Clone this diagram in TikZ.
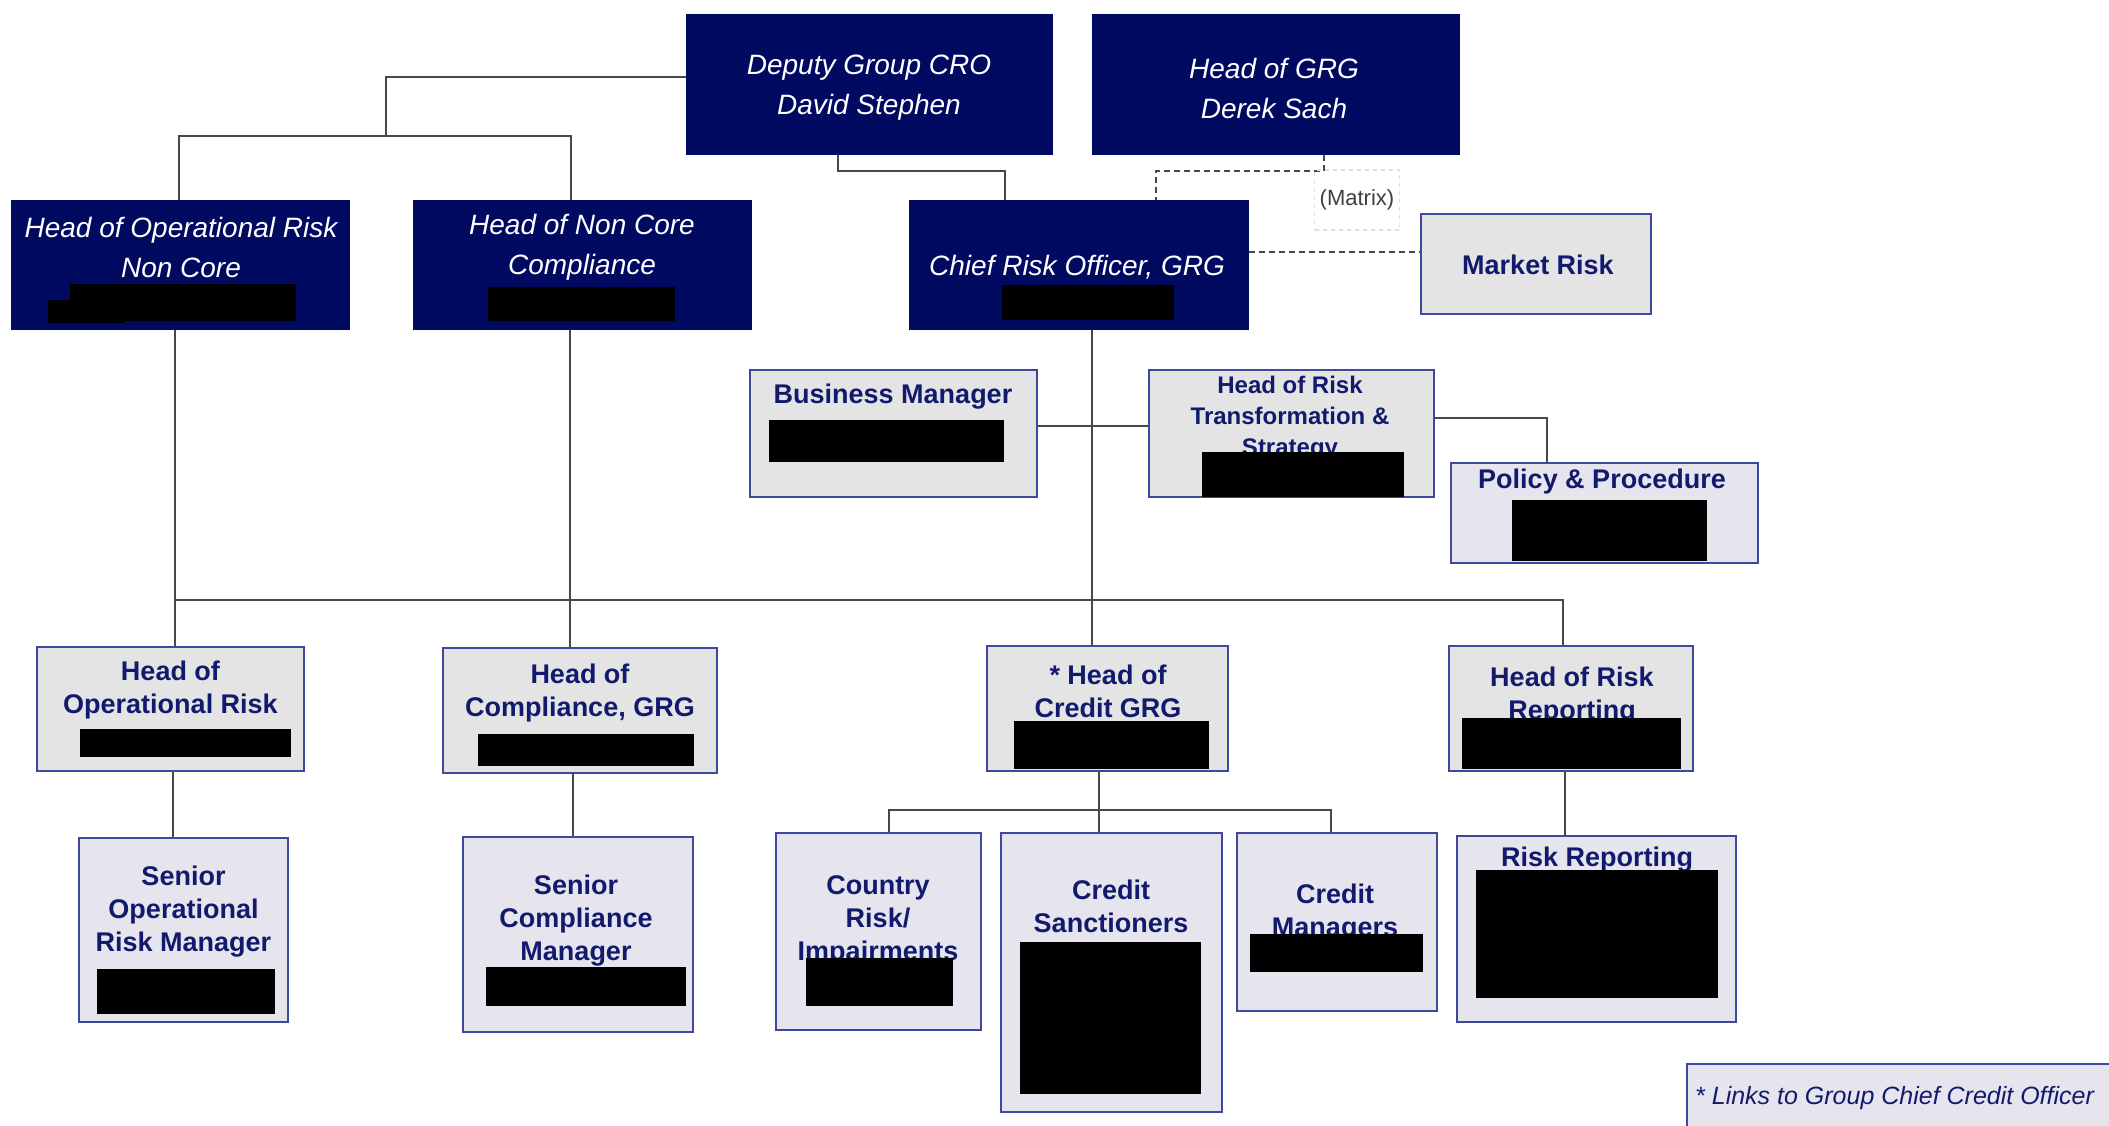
\documentclass[tikz,border=0pt]{standalone}
\usepackage{fontspec}
\setmainfont{Liberation Sans}
\usetikzlibrary{positioning}
\definecolor{navy}{RGB}{0,10,96}
\definecolor{txtblue}{RGB}{18,26,110}
\definecolor{edge}{RGB}{64,72,158}
\definecolor{boxgray}{RGB}{228,228,228}
\definecolor{boxlilac}{RGB}{230,229,238}
\definecolor{linegray}{RGB}{72,72,72}

\begin{document}
\begin{tikzpicture}[x=1pt,y=-1pt]
  \tikzstyle{navybox}=[draw=navy,fill=navy,line width=1.5pt,inner sep=0pt]
  \tikzstyle{graybox}=[draw=edge,fill=boxgray,line width=2pt,inner sep=0pt]
  \tikzstyle{lilacbox}=[graybox,fill=boxlilac]
  \tikzstyle{wtext}=[text=white,align=center,inner sep=0pt,font=\fontsize{28}{40}\selectfont\itshape]
  \tikzstyle{btext}=[text=txtblue,align=center,inner sep=0pt,font=\fontsize{27}{33}\selectfont\bfseries]
  \tikzstyle{link}=[draw=linegray,line width=2pt]
  \tikzstyle{matrixlink}=[link,dash pattern=on 6pt off 4pt]
  \useasboundingbox (0,0) rectangle (2109,1125);
  \clip (0,0) rectangle (2109,1125);
  \fill[white] (0,0) rectangle (2109,1125);

  % senior management
  \node[navybox,minimum width=365,minimum height=139] (dep) at (869.5,84.5) {};
  \node[wtext] (dep-t) at (869,88) {Deputy Group CRO\\David Stephen};
  \node[navybox,minimum width=366,minimum height=139] (grg) at (1276,84.5) {};
  \node[wtext] (grg-t) at (1274,88) {Head of GRG\\Derek Sach};
  \node[navybox,minimum width=337,minimum height=128] (oprnc) at (180.5,265) {};
  \node[wtext] (oprnc-t) at (181,247.5) {Head of Operational Risk\\Non Core};
  \node[navybox,minimum width=337,minimum height=128] (ncc) at (582.5,265) {};
  \node[wtext] (ncc-t) at (582,247.5) {Head of Non Core\\Compliance};
  \node[navybox,minimum width=338,minimum height=128] (cro) at (1079,265) {};
  \node[wtext] (cro-t) at (1077,267) {Chief Risk Officer, GRG};

  % CRO office
  \node[graybox,minimum width=230,minimum height=100] (mkt) at (1536,264) {};
  \node[btext] (mkt-t) at (1538,265) {Market Risk};
  \node[graybox,minimum width=287,minimum height=127] (bm) at (893.5,433.5) {};
  \node[btext] (bm-t) at (893,397) {Business Manager};
  \node[graybox,minimum width=285,minimum height=127] (hrts) at (1291.5,433.5) {};
  \node[btext,font=\fontsize{24}{31}\selectfont\bfseries] (hrts-t) at (1290,418) {Head of Risk\\Transformation \&\\Strategy};
  \node[lilacbox,minimum width=307,minimum height=100] (pol) at (1604.5,513) {};
  \node[btext] (pol-t) at (1602,482) {Policy \& Procedure};

  % heads
  \node[graybox,minimum width=267,minimum height=124] (hop) at (170.5,709) {};
  \node[btext] (hop-t) at (170.5,690) {Head of\\Operational Risk};
  \node[graybox,minimum width=274,minimum height=125] (hcomp) at (580,710.5) {};
  \node[btext] (hcomp-t) at (580,693) {Head of\\Compliance, GRG};
  \node[graybox,minimum width=241,minimum height=125] (hcred) at (1107.5,708.5) {};
  \node[btext] (hcred-t) at (1108,691) {* Head of\\Credit GRG};
  \node[graybox,minimum width=244,minimum height=125] (hrr) at (1571,708.5) {};
  \node[btext] (hrr-t) at (1572,696) {Head of Risk\\Reporting};

  % teams
  \node[lilacbox,minimum width=209,minimum height=184] (srop) at (183.5,930) {};
  \node[btext] (srop-t) at (183.5,911.5) {Senior\\Operational\\Risk Manager};
  \node[lilacbox,minimum width=230,minimum height=195] (srcomp) at (578,934.5) {};
  \node[btext] (srcomp-t) at (576,921) {Senior\\Compliance\\Manager};
  \node[lilacbox,minimum width=205,minimum height=197] (ctry) at (878.5,931.5) {};
  \node[btext] (ctry-t) at (878,921) {Country\\Risk/\\Impairments};
  \node[lilacbox,minimum width=221,minimum height=279] (csanc) at (1111.5,972.5) {};
  \node[btext] (csanc-t) at (1111,906.5) {Credit\\Sanctioners};
  \node[lilacbox,minimum width=200,minimum height=178] (cmgr) at (1337,922) {};
  \node[btext] (cmgr-t) at (1335,913) {Credit\\Managers};
  \node[lilacbox,minimum width=279,minimum height=186] (rrep) at (1596.5,929) {};
  \node[btext] (rrep-t) at (1597,860) {Risk Reporting};

  % redacted names
  \foreach \xa/\ya/\xb/\yb in {70/284/296/321,48/300/125/323,488/287/675/321,1002/285/1174/320,
      769/420/1004/462,1202/452/1404/497,1512/500/1707/561,80/729/291/757,478/734/694/766,
      97/969/275/1014,486/967/686/1006,1014/721/1209/769,1462/718/1681/769,806/958/953/1006,
      1020/942/1201/1094,1250/934/1423/972,1476/870/1718/998}
    \fill[black] (\xa,\ya) rectangle (\xb,\yb);

  % reporting lines
  \coordinate (split) at (386,136);
  \draw[link] ([yshift=7.5pt]dep.west) -| (split);
  \draw[link] ([xshift=-2pt]oprnc.north) |- (split) -| ([xshift=-12pt]ncc.north);
  \draw[link] ([xshift=-32pt]dep.south) -- ++(0,16) -| ([xshift=-74pt]cro.north);
  \draw[matrixlink] ([xshift=48pt]grg.south) -- ++(0,16) -| ([xshift=77pt]cro.north);
  \draw[matrixlink] ([yshift=13pt]cro.east) -- ([yshift=13pt]cro.east -| mkt.west);
  \node[draw=gray!25,line width=1.5pt,dash pattern=on 4pt off 4pt,minimum width=85,minimum height=60,
    text=black!75,font=\fontsize{22}{26}\selectfont] (matrix) at (1357,200) {(Matrix)};
  \draw[link] ([xshift=12.5pt]cro.south) -- ([xshift=-16pt]hcred.north);
  \draw[link] ([yshift=7.5pt]bm.east) -- ([yshift=7.5pt]hrts.west);
  \draw[link] ([yshift=15.5pt]hrts.east) -| ([xshift=-57.5pt]pol.north);
  \draw[link] ([xshift=-5.5pt]oprnc.south) -- ([xshift=4.5pt]hop.north);
  \draw[link] ([xshift=-12.5pt]ncc.south) -- ([xshift=-10pt]hcomp.north);
  \coordinate (busL) at (175,600);
  \draw[link] (busL) -| ([xshift=-8pt]hrr.north);
  \draw[link] ([xshift=2.5pt]hop.south) -- ([xshift=-10.5pt]srop.north);
  \draw[link] ([xshift=-7pt]hcomp.south) -- ([xshift=-5pt]srcomp.north);
  \draw[link] ([xshift=-8.5pt]hcred.south) -- ([xshift=-12.5pt]csanc.north);
  \coordinate (cbus) at (1099,810);
  \draw[link] ([xshift=10.5pt]ctry.north) |- (cbus) -| ([xshift=-6pt]cmgr.north);
  \draw[link] ([xshift=-6pt]hrr.south) -- ([xshift=-31.5pt]rrep.north);

  % footnote
  \node[lilacbox,anchor=north west,minimum width=440,minimum height=80] (note) at (1686,1063) {};
  \node[anchor=west,inner sep=0pt,text=txtblue,font=\fontsize{25}{30}\selectfont\itshape] (note-t) at (1695,1098) {* Links to Group Chief Credit Officer};
\end{tikzpicture}
\end{document}
